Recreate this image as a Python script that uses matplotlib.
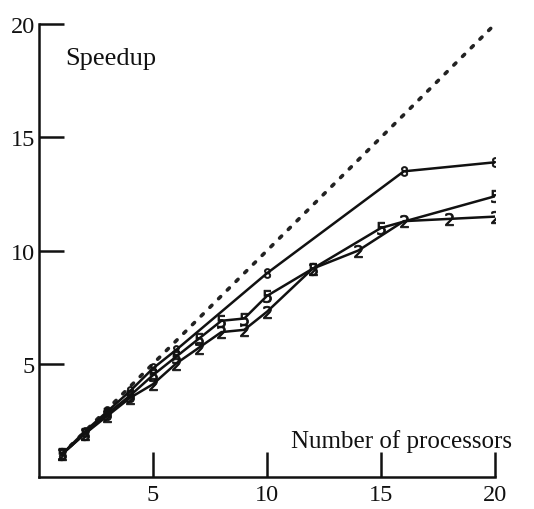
import matplotlib
matplotlib.use("Agg")
import matplotlib.pyplot as plt

# ideal speedup
x_ideal = [1, 20]
y_ideal = [1, 20]

# series labelled "8"
x8 = [1, 2, 3, 4, 5, 6, 10, 16, 20]
y8 = [1, 2.0, 2.9, 3.8, 4.8, 5.6, 9.0, 13.5, 13.9]

# series labelled "5"
x5 = [1, 2, 3, 4, 5, 6, 7, 8, 9, 10, 12, 15, 20]
y5 = [1, 1.9, 2.8, 3.6, 4.5, 5.3, 6.1, 6.9, 7.0, 8.0, 9.2, 11.0, 12.4]

# series labelled "2"
x2 = [1, 2, 3, 4, 5, 6, 7, 8, 9, 10, 12, 14, 16, 18, 20]
y2 = [1, 1.9, 2.7, 3.5, 4.1, 5.0, 5.7, 6.4, 6.5, 7.3, 9.2, 10.0, 11.3, 11.4, 11.5]

xticks = [5, 10, 15, 20]
yticks = [5, 10, 15, 20]

plt.rcParams['font.family'] = ['Liberation Serif', 'DejaVu Serif']

fig = plt.figure(figsize=(5.34, 5.10), dpi=100)
ax = fig.add_axes([0.073, 0.0627, 0.854, 0.888])

ax.plot(x_ideal, y_ideal, color='#222222', linestyle=(0, (0.8, 2.6)), linewidth=2.6,
        dash_capstyle='round', zorder=1)
ax.plot(x8, y8, color='#111111', linewidth=1.8, marker='$8$', markersize=7,
        markeredgewidth=0.6, zorder=3)
ax.plot(x5, y5, color='#111111', linewidth=1.8, marker='$5$', markersize=9,
        markeredgewidth=0.6, zorder=3)
ax.plot(x2, y2, color='#111111', linewidth=1.8, marker='$2$', markersize=9,
        markeredgewidth=0.6, zorder=3)

ax.set_xlim(0, 20)
ax.set_ylim(0, 20)
ax.set_xticks(xticks)
ax.set_yticks(yticks)
ax.set_xticklabels([str(t) for t in xticks])
ax.set_yticklabels([str(t) for t in yticks])
ax.tick_params(direction='in', length=18, width=1.8, labelsize=17.5, color='#111111',
               labelcolor='#111111')
ax.tick_params(axis='x', pad=5)
ax.tick_params(axis='y', pad=3)
for s in ['top', 'right']:
    ax.spines[s].set_visible(False)
for s in ['left', 'bottom']:
    ax.spines[s].set_linewidth(1.8)
    ax.spines[s].set_color('#111111')

ax.text(1.15, 18.5, 'Speedup', fontsize=19, va='center', ha='left', color='#111111')
ax.text(20.75, 1.6, 'Number of processors', fontsize=18, va='center', ha='right',
        color='#111111', clip_on=False)

fig.savefig('out.png', dpi=100)
